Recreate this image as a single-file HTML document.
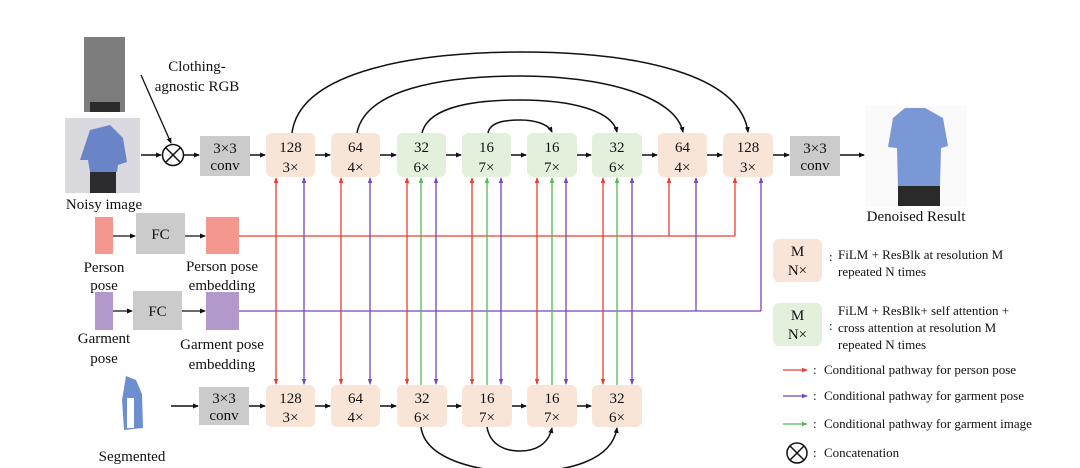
<!DOCTYPE html>
<html><head><meta charset="utf-8"><style>
html,body{margin:0;padding:0;background:#fff;}
svg{display:block;}
text{font-family:"Liberation Serif",serif;fill:#111;}
</style></head><body>
<svg width="1080" height="468" viewBox="0 0 1080 468" xmlns="http://www.w3.org/2000/svg">
<defs>
<marker id="ak" markerWidth="6" markerHeight="6" refX="5" refY="3" orient="auto" markerUnits="userSpaceOnUse"><path d="M0,0.5 L6,3 L0,5.5 z" fill="#111"/></marker>
<marker id="ar" markerWidth="6" markerHeight="6" refX="5" refY="3" orient="auto" markerUnits="userSpaceOnUse"><path d="M0,0.8 L6,3 L0,5.2 z" fill="#ee3b30"/></marker>
<marker id="ap" markerWidth="6" markerHeight="6" refX="5" refY="3" orient="auto" markerUnits="userSpaceOnUse"><path d="M0,0.8 L6,3 L0,5.2 z" fill="#7646bb"/></marker>
<marker id="ag" markerWidth="6" markerHeight="6" refX="5" refY="3" orient="auto" markerUnits="userSpaceOnUse"><path d="M0,0.8 L6,3 L0,5.2 z" fill="#55b755"/></marker>
</defs>

<rect x="84" y="37" width="41" height="75" fill="#7d7d7d"/>
<rect x="90" y="102" width="30" height="10" fill="#2a2a2a"/>
<rect x="65" y="118" width="75" height="75" fill="#d9d9df"/>
<path d="M90,130 L110,125 L123,138 L127,162 L118,165 L117,172 L90,172 L88,160 L80,160 Z" fill="#6a84c8"/>
<rect x="90" y="172" width="26" height="21" fill="#2b2b30"/>
<rect x="865" y="106" width="102" height="100" fill="#fafafa"/>
<path d="M905,108 L925,108 L943,118 L948,146 L941,148 L940,186 L898,188 L897,148 L888,147 L893,118 Z" fill="#7a97d6"/>
<rect x="898" y="186" width="42" height="20" fill="#2a2a2a"/>
<path d="M126,376 L136,380 L142,394 L143,428 L124,430 L122,400 Z" fill="#6d8fd0"/>
<rect x="127" y="398" width="7" height="30" fill="#fff"/>

<text x="197" y="71" font-size="15" text-anchor="middle">Clothing-</text>
<text x="197" y="91" font-size="15" text-anchor="middle">agnostic RGB</text>
<text x="104" y="209" font-size="15" text-anchor="middle">Noisy image</text>
<text x="916" y="221" font-size="15" text-anchor="middle">Denoised Result</text>
<line x1="141" y1="75" x2="171" y2="143" stroke="#111" stroke-width="1.3" marker-end="url(#ak)"/>

<circle cx="173" cy="155" r="10.5" fill="#fff" stroke="#111" stroke-width="1.5"/>
<line x1="165.6" y1="147.6" x2="180.4" y2="162.4" stroke="#111" stroke-width="1.5"/>
<line x1="180.4" y1="147.6" x2="165.6" y2="162.4" stroke="#111" stroke-width="1.5"/>
<line x1="141" y1="155" x2="161" y2="155" stroke="#111" stroke-width="1.5" marker-end="url(#ak)"/>
<line x1="184" y1="155" x2="199" y2="155" stroke="#111" stroke-width="1.5" marker-end="url(#ak)"/>

<rect x="200" y="136" width="50" height="40" fill="#cbcbcb"/>
<text x="225" y="153" font-size="15" text-anchor="middle">3×3</text>
<text x="225" y="170" font-size="15" text-anchor="middle">conv</text>
<g font-size="15" text-anchor="middle">
<rect x="266" y="133" width="49" height="44" rx="6" fill="#f8e5d8"/><text x="290.5" y="152">128</text><text x="290.5" y="172">3×</text>
<rect x="331" y="133" width="49" height="44" rx="6" fill="#f8e5d8"/><text x="355.5" y="152">64</text><text x="355.5" y="172">4×</text>
<rect x="397" y="133" width="49" height="44" rx="6" fill="#e3f0dc"/><text x="421.5" y="152">32</text><text x="421.5" y="172">6×</text>
<rect x="462" y="133" width="49" height="44" rx="6" fill="#e3f0dc"/><text x="486.5" y="152">16</text><text x="486.5" y="172">7×</text>
<rect x="527" y="133" width="50" height="44" rx="6" fill="#e3f0dc"/><text x="552" y="152">16</text><text x="552" y="172">7×</text>
<rect x="592" y="133" width="50" height="44" rx="6" fill="#e3f0dc"/><text x="617" y="152">32</text><text x="617" y="172">6×</text>
<rect x="658" y="133" width="49" height="44" rx="6" fill="#f8e5d8"/><text x="682.5" y="152">64</text><text x="682.5" y="172">4×</text>
<rect x="723" y="133" width="50" height="44" rx="6" fill="#f8e5d8"/><text x="748" y="152">128</text><text x="748" y="172">3×</text>
</g>
<rect x="790" y="136" width="50" height="40" fill="#cbcbcb"/>
<text x="815" y="153" font-size="15" text-anchor="middle">3×3</text>
<text x="815" y="170" font-size="15" text-anchor="middle">conv</text>
<g stroke="#111" stroke-width="1.5" marker-end="url(#ak)">
<line x1="250" y1="155" x2="265" y2="155"/>
<line x1="315" y1="155" x2="330" y2="155"/>
<line x1="380" y1="155" x2="396" y2="155"/>
<line x1="446" y1="155" x2="461" y2="155"/>
<line x1="511" y1="155" x2="526" y2="155"/>
<line x1="577" y1="155" x2="591" y2="155"/>
<line x1="642" y1="155" x2="657" y2="155"/>
<line x1="707" y1="155" x2="722" y2="155"/>
<line x1="773" y1="155" x2="789" y2="155"/>
<line x1="840" y1="155" x2="864" y2="155"/>
</g>
<g fill="none" stroke="#111" stroke-width="1.5" marker-end="url(#ak)">
<path d="M292,133 C300,70 420,52 520,52 C640,52 740,75 748,132"/>
<path d="M357,133 C365,90 440,76 520,76 C600,76 675,95 683,132"/>
<path d="M422,133 C428,108 470,100 520,100 C570,100 612,110 617,132"/>
<path d="M488,133 C490,122 505,120 520,120 C535,120 548,124 552,132"/>
</g>

<rect x="95" y="217" width="18" height="37" fill="#f4978e"/>
<rect x="136" y="213" width="49" height="41" fill="#cbcbcb"/>
<text x="160.5" y="239" font-size="15" text-anchor="middle">FC</text>
<rect x="206" y="217" width="33" height="37" fill="#f4978e"/>
<line x1="113" y1="236" x2="135" y2="236" stroke="#111" stroke-width="1.3" marker-end="url(#ak)"/>
<line x1="185" y1="236" x2="205" y2="236" stroke="#111" stroke-width="1.3" marker-end="url(#ak)"/>
<g font-size="15" text-anchor="middle">
<text x="104" y="272">Person</text><text x="104" y="290">pose</text>
<text x="222" y="271">Person pose</text><text x="222" y="290">embedding</text>
</g>
<rect x="95" y="292" width="18" height="38" fill="#b398cc"/>
<rect x="133" y="291" width="49" height="39" fill="#cbcbcb"/>
<text x="157.5" y="316" font-size="15" text-anchor="middle">FC</text>
<rect x="206" y="292" width="33" height="38" fill="#b398cc"/>
<line x1="113" y1="311" x2="132" y2="311" stroke="#111" stroke-width="1.3" marker-end="url(#ak)"/>
<line x1="182" y1="311" x2="205" y2="311" stroke="#111" stroke-width="1.3" marker-end="url(#ak)"/>
<g font-size="15" text-anchor="middle">
<text x="104" y="343">Garment</text><text x="104" y="363">pose</text>
<text x="222" y="349">Garment pose</text><text x="222" y="369">embedding</text>
</g>

<line x1="239" y1="236" x2="735" y2="236" stroke="#ee3b30" stroke-width="1.3"/>
<line x1="239" y1="311" x2="761" y2="311" stroke="#7646bb" stroke-width="1.3"/>

<g stroke-width="1.3">
<g stroke="#ee3b30">
<line x1="276" y1="236" x2="276" y2="178" marker-end="url(#ar)"/><line x1="276" y1="236" x2="276" y2="384" marker-end="url(#ar)"/>
<line x1="341" y1="236" x2="341" y2="178" marker-end="url(#ar)"/><line x1="341" y1="236" x2="341" y2="384" marker-end="url(#ar)"/>
<line x1="407" y1="236" x2="407" y2="178" marker-end="url(#ar)"/><line x1="407" y1="236" x2="407" y2="384" marker-end="url(#ar)"/>
<line x1="472" y1="236" x2="472" y2="178" marker-end="url(#ar)"/><line x1="472" y1="236" x2="472" y2="384" marker-end="url(#ar)"/>
<line x1="537" y1="236" x2="537" y2="178" marker-end="url(#ar)"/><line x1="537" y1="236" x2="537" y2="384" marker-end="url(#ar)"/>
<line x1="603" y1="236" x2="603" y2="178" marker-end="url(#ar)"/><line x1="603" y1="236" x2="603" y2="384" marker-end="url(#ar)"/>
<line x1="669" y1="236" x2="669" y2="178" marker-end="url(#ar)"/>
<line x1="735" y1="236" x2="735" y2="178" marker-end="url(#ar)"/>
</g>
<g stroke="#7646bb">
<line x1="304" y1="311" x2="304" y2="178" marker-end="url(#ap)"/><line x1="304" y1="311" x2="304" y2="384" marker-end="url(#ap)"/>
<line x1="370" y1="311" x2="370" y2="178" marker-end="url(#ap)"/><line x1="370" y1="311" x2="370" y2="384" marker-end="url(#ap)"/>
<line x1="436" y1="311" x2="436" y2="178" marker-end="url(#ap)"/><line x1="436" y1="311" x2="436" y2="384" marker-end="url(#ap)"/>
<line x1="501" y1="311" x2="501" y2="178" marker-end="url(#ap)"/><line x1="501" y1="311" x2="501" y2="384" marker-end="url(#ap)"/>
<line x1="566" y1="311" x2="566" y2="178" marker-end="url(#ap)"/><line x1="566" y1="311" x2="566" y2="384" marker-end="url(#ap)"/>
<line x1="632" y1="311" x2="632" y2="178" marker-end="url(#ap)"/><line x1="632" y1="311" x2="632" y2="384" marker-end="url(#ap)"/>
<line x1="696" y1="311" x2="696" y2="178" marker-end="url(#ap)"/>
<line x1="761" y1="311" x2="761" y2="178" marker-end="url(#ap)"/>
</g>
<g stroke="#55b755">
<line x1="421" y1="385" x2="421" y2="178" marker-end="url(#ag)"/>
<line x1="487" y1="385" x2="487" y2="178" marker-end="url(#ag)"/>
<line x1="552" y1="385" x2="552" y2="178" marker-end="url(#ag)"/>
<line x1="617" y1="385" x2="617" y2="178" marker-end="url(#ag)"/>
</g>
</g>

<rect x="199" y="387" width="50" height="38" fill="#cbcbcb"/>
<text x="224" y="403" font-size="15" text-anchor="middle">3×3</text>
<text x="224" y="420" font-size="15" text-anchor="middle">conv</text>
<g font-size="15" text-anchor="middle">
<rect x="266" y="385" width="49" height="42" rx="6" fill="#f8e5d8"/><text x="290.5" y="403">128</text><text x="290.5" y="422">3×</text>
<rect x="331" y="385" width="49" height="42" rx="6" fill="#f8e5d8"/><text x="355.5" y="403">64</text><text x="355.5" y="422">4×</text>
<rect x="397" y="385" width="50" height="42" rx="6" fill="#f8e5d8"/><text x="422" y="403">32</text><text x="422" y="422">6×</text>
<rect x="462" y="385" width="50" height="42" rx="6" fill="#f8e5d8"/><text x="487" y="403">16</text><text x="487" y="422">7×</text>
<rect x="527" y="385" width="50" height="42" rx="6" fill="#f8e5d8"/><text x="552" y="403">16</text><text x="552" y="422">7×</text>
<rect x="592" y="385" width="50" height="42" rx="6" fill="#f8e5d8"/><text x="617" y="403">32</text><text x="617" y="422">6×</text>
</g>
<g stroke="#111" stroke-width="1.5" marker-end="url(#ak)">
<line x1="171" y1="406" x2="198" y2="406"/>
<line x1="249" y1="406" x2="265" y2="406"/>
<line x1="315" y1="406" x2="330" y2="406"/>
<line x1="380" y1="406" x2="396" y2="406"/>
<line x1="447" y1="406" x2="461" y2="406"/>
<line x1="512" y1="406" x2="526" y2="406"/>
<line x1="577" y1="406" x2="591" y2="406"/>
</g>
<g fill="none" stroke="#111" stroke-width="1.5" marker-end="url(#ak)">
<path d="M421,427 C425,460 480,472 520,472 C570,472 612,460 617,428"/>
<path d="M487,427 C490,445 505,451 520,451 C535,451 548,445 552,428"/>
</g>
<text x="132" y="461" font-size="15" text-anchor="middle">Segmented</text>

<rect x="773" y="239" width="49" height="43" rx="6" fill="#f8e5d8"/>
<text x="797.5" y="256" font-size="15" text-anchor="middle">M</text>
<text x="797.5" y="275" font-size="15" text-anchor="middle">N×</text>
<text x="829" y="261" font-size="13">:</text>
<text x="838" y="259" font-size="13">FiLM + ResBlk at resolution M</text>
<text x="838" y="276" font-size="13">repeated N times</text>
<rect x="773" y="303" width="49" height="43" rx="6" fill="#e3f0dc"/>
<text x="797.5" y="320" font-size="15" text-anchor="middle">M</text>
<text x="797.5" y="339" font-size="15" text-anchor="middle">N×</text>
<text x="829" y="330" font-size="13">:</text>
<text x="838" y="315" font-size="13">FiLM + ResBlk+ self attention +</text>
<text x="838" y="332" font-size="13">cross attention at resolution M</text>
<text x="838" y="349" font-size="13">repeated N times</text>
<line x1="783" y1="370" x2="807" y2="370" stroke="#ee3b30" stroke-width="1.3" marker-end="url(#ar)"/>
<line x1="783" y1="396" x2="807" y2="396" stroke="#7646bb" stroke-width="1.3" marker-end="url(#ap)"/>
<line x1="783" y1="424" x2="807" y2="424" stroke="#55b755" stroke-width="1.3" marker-end="url(#ag)"/>
<g font-size="13">
<text x="813" y="374">:</text><text x="824" y="374">Conditional pathway for person pose</text>
<text x="813" y="400">:</text><text x="824" y="400">Conditional pathway for garment pose</text>
<text x="813" y="428">:</text><text x="824" y="428">Conditional pathway for garment image</text>
<text x="813" y="457">:</text><text x="824" y="457">Concatenation</text>
</g>
<circle cx="797" cy="453" r="10" fill="#fff" stroke="#111" stroke-width="1.5"/>
<line x1="790" y1="446" x2="804" y2="460" stroke="#111" stroke-width="1.5"/>
<line x1="804" y1="446" x2="790" y2="460" stroke="#111" stroke-width="1.5"/>
</svg>
</body></html>
